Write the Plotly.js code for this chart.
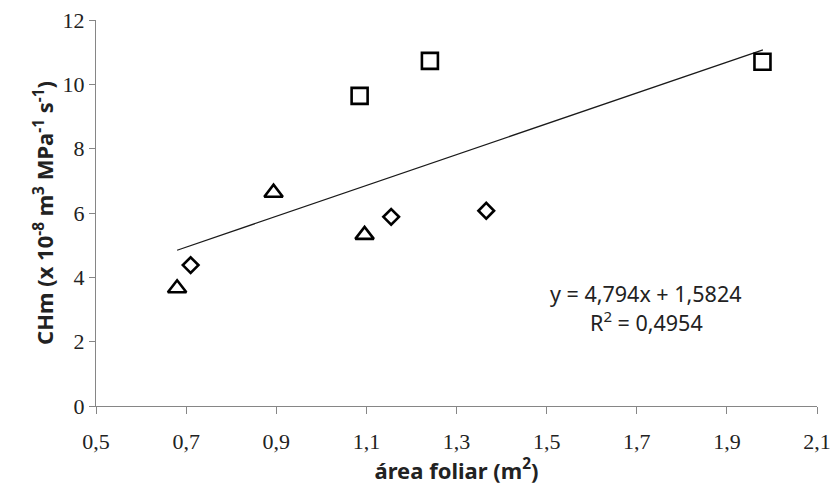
<!DOCTYPE html>
<html>
<head>
<meta charset="utf-8">
<script src="https://cdn.plot.ly/plotly-3.0.1.min.js"></script>
<style>
  html, body { margin: 0; padding: 0; background: #fff; }
  #chart { width: 835px; height: 488px; }
</style>
</head>
<body>
<div id="chart"></div>
<script>
// Data
const triangleX = [0.680, 0.894, 1.096];
const triangleY = [3.66, 6.63, 5.32];
const squareX = [1.085, 1.241, 1.979];
const squareY = [9.64, 10.73, 10.70];
const diamondX = [0.710, 1.155, 1.366];
const diamondY = [4.38, 5.88, 6.07];

// Linear trend line (from the equation printed on the chart)
const trendSlope = 4.794;
const trendIntercept = 1.5824;
const trendRangeX = [0.68, 1.98];
const trendLabel = ['y = 4,794x + 1,5824', 'R<sup>2</sup> = 0,4954'];

// Axis ticks
const xTicks = [0.5, 0.7, 0.9, 1.1, 1.3, 1.5, 1.7, 1.9, 2.1];
const yTicks = [0, 2, 4, 6, 8, 10, 12];

const trendY = trendRangeX.map(x => trendSlope * x + trendIntercept);

const markerLine = { color: '#000', width: 2.6 };

const traces = [
  {
    x: trendRangeX, y: trendY, type: 'scatter', mode: 'lines',
    line: { color: '#1a1a1a', width: 1.3 }, hoverinfo: 'skip', showlegend: false
  },
  {
    x: triangleX, y: triangleY, type: 'scatter', mode: 'markers',
    marker: { symbol: 'triangle-up-open', size: 16, color: '#000', line: markerLine },
    showlegend: false
  },
  {
    x: squareX, y: squareY, type: 'scatter', mode: 'markers',
    marker: { symbol: 'square-open', size: 16, color: '#000', line: markerLine },
    showlegend: false
  },
  {
    x: diamondX, y: diamondY, type: 'scatter', mode: 'markers',
    marker: { symbol: 'diamond-open', size: 12, color: '#000', line: markerLine },
    showlegend: false
  }
];

const layout = {
  width: 835, height: 488,
  margin: { l: 95.5, r: 18.3, t: 20, b: 82 },
  showlegend: false,
  separators: ', ',
  // global font = tick label font (serif, like the reference)
  font: { family: 'Liberation Serif', size: 22, color: '#222' },
  xaxis: {
    range: [0.5, 2.1], tickmode: 'array', tickvals: xTicks, tickformat: '.1f',
    showgrid: false, zeroline: false,
    showline: true, linecolor: '#868686', linewidth: 1.2,
    ticks: 'outside', ticklen: 7, tickcolor: '#868686', tickwidth: 1.2,
    ticklabelstandoff: 8,
    title: { text: '<b>área foliar (m<sup>2</sup>)</b>', font: { family: 'Noto Sans', size: 22, color: '#222' }, standoff: 4 }
  },
  yaxis: {
    range: [0, 12], tickmode: 'array', tickvals: yTicks,
    ticksuffix: '\u2002\u2009',
    showgrid: false, zeroline: false,
    showline: true, linecolor: '#868686', linewidth: 1.2,
    ticks: 'outside', ticklen: 6, tickcolor: '#868686', tickwidth: 1.2,
    title: { text: '<b>CHm (x 10<sup>-8</sup> m<sup>3</sup> MPa<sup>-1</sup> s<sup>-1</sup>)</b>', font: { family: 'Noto Sans', size: 22, color: '#222' }, standoff: 2 }
  },
  annotations: [
    {
      x: 1.721, y: (406 - 293) / 32.17, xref: 'x', yref: 'y',
      text: trendLabel[0], showarrow: false, align: 'center',
      font: { family: 'Noto Sans', size: 21.5, color: '#222' }
    },
    {
      x: 1.721, y: (406 - 321) / 32.17, xref: 'x', yref: 'y',
      text: trendLabel[1], showarrow: false, align: 'center',
      font: { family: 'Noto Sans', size: 21.5, color: '#222' }
    }
  ]
};

Plotly.newPlot('chart', traces, layout, { displayModeBar: false });
</script>
</body>
</html>
